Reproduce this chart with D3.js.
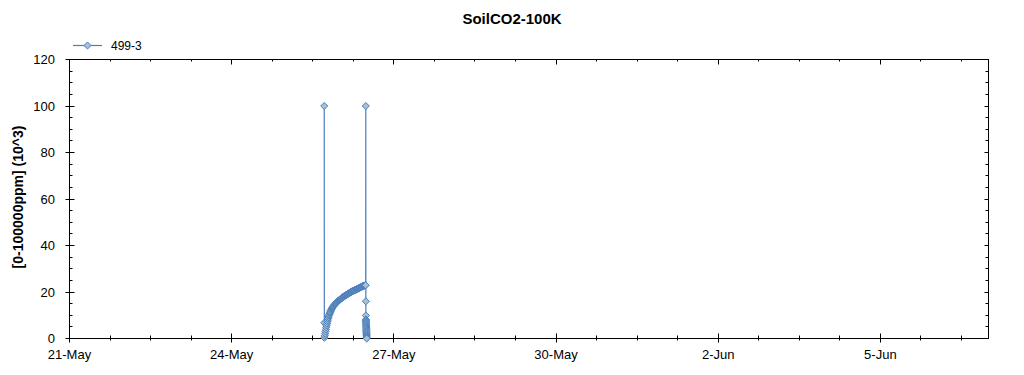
<!DOCTYPE html>
<html>
<head>
<meta charset="utf-8">
<script src="https://cdn.jsdelivr.net/npm/d3@7"></script>
<style>
  body { margin: 0; background: #fff; }
  svg { display: block; font-family: "Liberation Sans", Arial, sans-serif; }
</style>
</head>
<body>
<div id="chart"></div>
<script>
// data (logger samples)
var seriesName = "499-3";

// first spike
var headTimes = ["2013-05-25T17:05", "2013-05-25T17:08"];
var headValues = [100, 6.8];

// slow rise, one sample every 10 minutes from 17:10
var riseStart = "2013-05-25T17:10", riseStepMin = 10;
var riseValues = [
  0.3, 1.2, 2.1, 3.0, 3.9, 4.8,
  5.6, 6.4, 7.2, 7.9, 8.6, 9.2,
  9.8, 10.3, 10.8, 11.2, 11.6, 12.0,
  12.3, 12.6, 12.9, 13.2, 13.5, 13.7,
  13.9, 14.1, 14.3, 14.5, 14.7, 14.9,
  15.1, 15.2, 15.4, 15.5, 15.7, 15.8,
  16.0, 16.1, 16.3, 16.4, 16.6, 16.7,
  16.8, 17.0, 17.1, 17.2, 17.4, 17.5,
  17.6, 17.7, 17.8, 18.0, 18.1, 18.2,
  18.3, 18.4, 18.5, 18.6, 18.7, 18.8,
  18.9, 19.0, 19.1, 19.2, 19.3, 19.4,
  19.5, 19.6, 19.7, 19.8, 19.9, 20.0,
  20.1, 20.2, 20.3, 20.3, 20.4, 20.5,
  20.6, 20.7, 20.7, 20.8, 20.9, 21.0,
  21.0, 21.1, 21.2, 21.3, 21.3, 21.4,
  21.5, 21.6, 21.7, 21.7, 21.8, 21.9,
  22.0, 22.1, 22.2, 22.2, 22.3, 22.4,
  22.5, 22.5, 22.6, 22.7, 22.7, 22.8,
  22.8, 22.9, 22.9
];

// second spike and fall, one sample every minute from 11:33
var tailStart = "2013-05-26T11:33", tailStepMin = 1;
var tailValues = [
  100, 16.0, 9.9, 8.2, 7.8, 7.4, 7.0, 6.6, 6.2, 5.8,
  5.4, 5.0, 4.6, 4.2, 3.8, 3.4, 3.0, 2.6, 2.2, 1.8,
  1.4, 1.0, 0.6, 0.3, 0
];

var xStart = "2013-05-21T00:00", xEnd = "2013-06-07T00:00";
var xMajorTicks = ["2013-05-21", "2013-05-24", "2013-05-27", "2013-05-30", "2013-06-02", "2013-06-05"];
var xTickLabels = ["21-May", "24-May", "27-May", "30-May", "2-Jun", "5-Jun"];
var yMajorTicks = [0, 20, 40, 60, 80, 100, 120];
var yMinorStep = 5;

var parse = d3.utcParse("%Y-%m-%dT%H:%M"),
    parseDay = d3.utcParse("%Y-%m-%d");

var data = [];
headTimes.forEach(function(t, i) { data.push({ t: parse(t), v: headValues[i] }); });
riseValues.forEach(function(v, i) {
  data.push({ t: d3.utcMinute.offset(parse(riseStart), i * riseStepMin), v: v });
});
tailValues.forEach(function(v, i) {
  data.push({ t: d3.utcMinute.offset(parse(tailStart), i * tailStepMin), v: v });
});

var W = 1024, H = 375;
var pL = 69.5, pR = 988.5, pT = 59.5, pB = 338.5;

var svg = d3.select("#chart").append("svg")
    .attr("width", W)
    .attr("height", H);

var x = d3.scaleUtc()
    .domain([parse(xStart), parse(xEnd)])
    .range([pL, pR]);

var y = d3.scaleLinear()
    .domain([0, 120])
    .range([pB, pT]);

function px(v) { return Math.round(v - 0.5) + 0.5; }

// title
svg.append("text")
    .attr("x", 512)
    .attr("y", 24)
    .attr("text-anchor", "middle")
    .style("font-size", "15px")
    .style("font-weight", "bold")
    .attr("fill", "#000")
    .text("SoilCO2-100K");

// frame
svg.append("rect")
    .attr("x", pL).attr("y", pT)
    .attr("width", pR - pL).attr("height", pB - pT)
    .attr("fill", "none")
    .attr("stroke", "#000")
    .attr("stroke-width", 1);

// x ticks: minor every 18 hours, major every 3 days
var t0 = parse(xStart).getTime(), t1 = parse(xEnd).getTime();
var xMinor = d3.range(t0, t1, 18 * 3600 * 1000).map(function(d) { return new Date(d); });
var majorSet = xMajorTicks.map(function(d) { return parseDay(d).getTime(); });

var g = svg.append("g").attr("stroke", "#000").attr("stroke-width", 1);

xMinor.forEach(function(d) {
  var isMajor = majorSet.indexOf(d.getTime()) >= 0;
  var xx = px(x(d));
  // bottom
  g.append("line")
      .attr("x1", xx).attr("x2", xx)
      .attr("y1", pB - (isMajor ? 5 : 3)).attr("y2", pB + (isMajor ? 4 : 2));
  // top
  g.append("line")
      .attr("x1", xx).attr("x2", xx)
      .attr("y1", pT).attr("y2", pT + (isMajor ? 5 : 2));
});

svg.append("g")
  .selectAll("text")
  .data(xMajorTicks)
  .enter()
  .append("text")
    .attr("x", function(d) { return x(parseDay(d)); })
    .attr("y", 359)
    .attr("text-anchor", "middle")
    .style("font-size", "13px")
    .attr("fill", "#000")
    .text(function(d, i) { return xTickLabels[i]; });

// y ticks
var yMinor = d3.range(0, 120 + 0.001, yMinorStep);
yMinor.forEach(function(v) {
  var isMajor = yMajorTicks.indexOf(v) >= 0;
  var yy = px(y(v));
  g.append("line")
      .attr("x1", pL - (isMajor ? 4 : 0)).attr("x2", pL + (isMajor ? 5 : 3))
      .attr("y1", yy).attr("y2", yy);
  g.append("line")
      .attr("x1", pR - (isMajor ? 4 : 3)).attr("x2", pR)
      .attr("y1", yy).attr("y2", yy);
});

svg.append("g")
  .selectAll("text")
  .data(yMajorTicks)
  .enter()
  .append("text")
    .attr("x", 55)
    .attr("y", function(d) { return y(d) + 4.5; })
    .attr("text-anchor", "end")
    .style("font-size", "13px")
    .attr("fill", "#000")
    .text(function(d) { return d; });

// y axis title
svg.append("text")
    .attr("transform", "translate(23,197) rotate(-90)")
    .attr("text-anchor", "middle")
    .style("font-size", "14px")
    .style("font-weight", "bold")
    .attr("fill", "#000")
    .text("[0-100000ppm] (10^3)");

// series
var lineColor = "#4a7ebb", markerFill = "#a9bfd6";
var diamond = d3.symbol().type(d3.symbolDiamond2).size(32);

svg.append("path")
    .datum(data)
    .attr("fill", "none")
    .attr("stroke", lineColor)
    .attr("stroke-width", 1.2)
    .attr("d", d3.line()
      .x(function(d) { return x(d.t); })
      .y(function(d) { return y(d.v); }));

svg.append("g")
  .selectAll("path")
  .data(data)
  .enter()
  .append("path")
    .attr("d", diamond)
    .attr("transform", function(d) { return "translate(" + x(d.t) + "," + y(d.v) + ")"; })
    .attr("fill", markerFill)
    .attr("stroke", lineColor)
    .attr("stroke-width", 1);

// legend
var legY = 45;
svg.append("line")
    .attr("x1", 73).attr("x2", 102)
    .attr("y1", legY + 0.5).attr("y2", legY + 0.5)
    .attr("stroke", lineColor)
    .attr("stroke-width", 1.2);
svg.append("path")
    .attr("d", diamond)
    .attr("transform", "translate(87.5," + (legY + 0.5) + ")")
    .attr("fill", markerFill)
    .attr("stroke", lineColor);
svg.append("text")
    .attr("x", 111)
    .attr("y", legY + 4.5)
    .style("font-size", "12px")
    .attr("fill", "#000")
    .text(seriesName);
</script>
</body>
</html>
